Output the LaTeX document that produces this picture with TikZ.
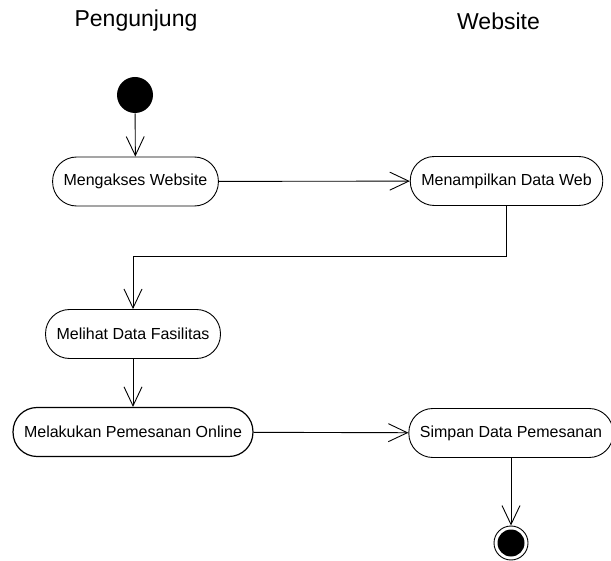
\documentclass[tikz,border=0pt]{standalone}
\usepackage{fontspec}
\setmainfont{Liberation Sans}
\usetikzlibrary{arrows.meta}
\usetikzlibrary{positioning}

\begin{document}
\begin{tikzpicture}[x=1pt,y=1pt,line width=0.9pt,
  >={Straight Barb[length=19pt,width=18pt,line width=0.9pt]},
  lane/.style={font=\fontsize{23}{27}\selectfont},
  activity/.style={draw,rounded corners=24pt,minimum height=49pt,inner xsep=11pt,font=\fontsize{16}{19}\selectfont}]
\useasboundingbox (0,0) rectangle (611,-561);

\node[lane](lane1) at (136,-21) {Pengunjung};
\node[lane](lane2) at (498.5,-21) {Website};

\node[circle,fill,inner sep=0pt,minimum size=36pt](start) at (135,-95) {};

\node[activity](a1) at (135.5,-181.5) {Mengakses Website};
\node[activity](a2) at (506.5,-181) {Menampilkan Data Web};
\node[activity](a3) at (133,-334) {Melihat Data Fasilitas};
\node[activity,line width=1.2pt](a4) at (133,-432) {Melakukan Pemesanan Online};
\node[activity](a5) at (511,-433) {Simpan Data Pemesanan};

\node[circle,draw,inner sep=0pt,minimum size=34pt](stop) at (511,-543) {};
\node[circle,fill,inner sep=0pt,minimum size=27pt](stopdot) at (stop) {};

\draw[->] (start)--(a1);
\draw[->] (a1)--(a2);
\draw[->] (a2.south)--++(0,-51)-|(a3.north);
\draw[->] (a3)--(a4);
\draw[->] (a4)--(a5);
\draw[->] (a5)--(stop);
\end{tikzpicture}
\end{document}
